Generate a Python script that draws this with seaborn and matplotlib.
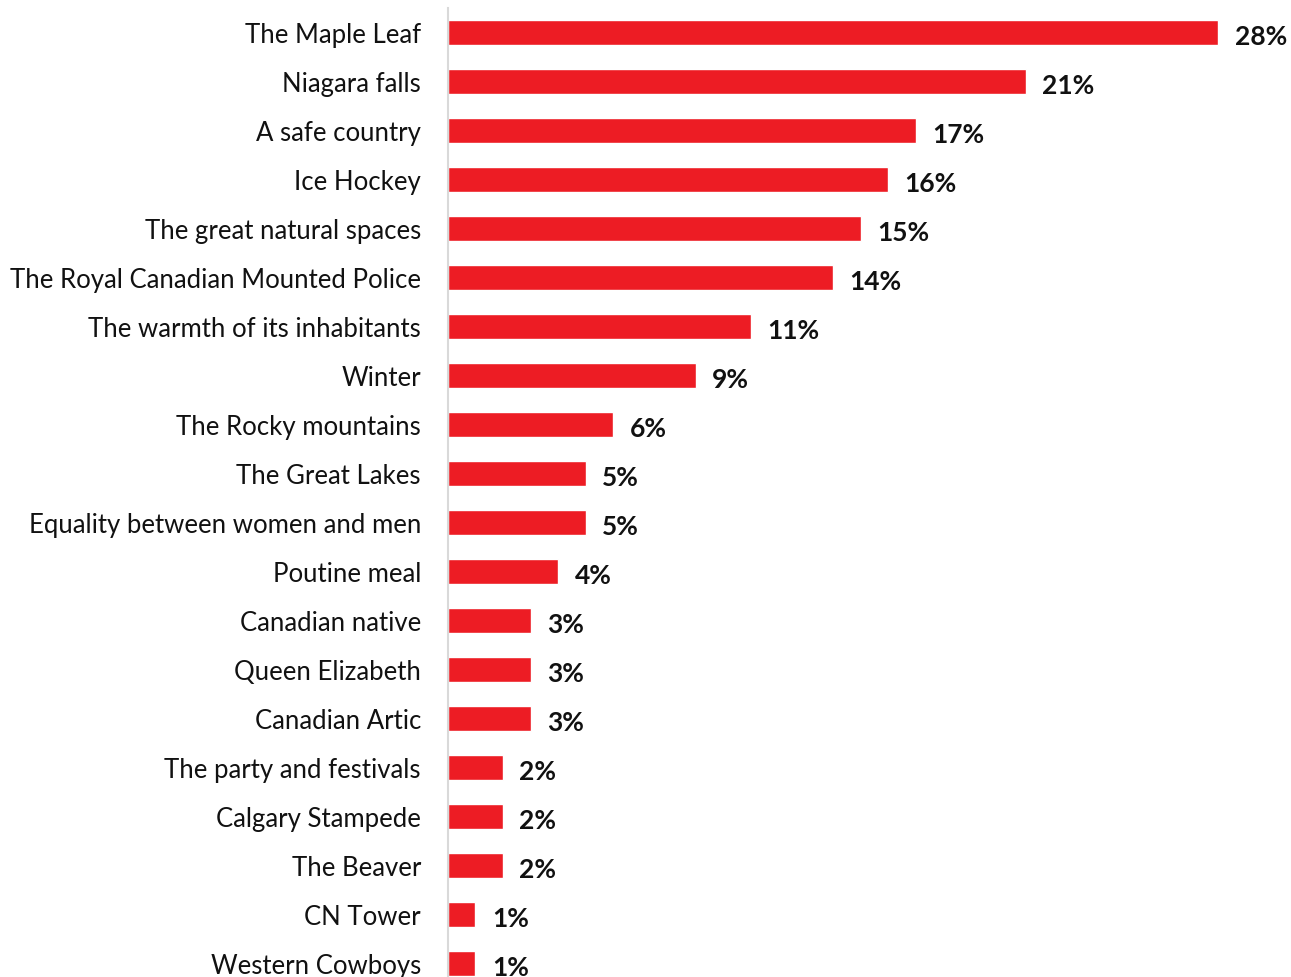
import pandas as pd
import seaborn as sns
import matplotlib.pyplot as plt

# what people associate with Canada (% of answers)
items = ["The Maple Leaf", "Niagara falls", "A safe country", "Ice Hockey",
         "The great natural spaces", "The Royal Canadian Mounted Police",
         "The warmth of its inhabitants", "Winter", "The Rocky mountains",
         "The Great Lakes", "Equality between women and men", "Poutine meal",
         "Canadian native", "Queen Elizabeth", "Canadian Artic",
         "The party and festivals", "Calgary Stampede", "The Beaver",
         "CN Tower", "Western Cowboys"]
shares = [28, 21, 17, 16, 15, 14, 11, 9, 6, 5, 5, 4, 3, 3, 3, 2, 2, 2, 1, 1]

df = pd.DataFrame({"item": items, "share": shares})

sns.set_theme(style="white")
plt.rcParams['font.family'] = ['Lato', 'DejaVu Sans']

fig = plt.figure(figsize=(12.91, 9.78), dpi=100)
ax = fig.add_axes([448 / 1291, 0, 825 / 1291, 969 / 978])

sns.barplot(data=df, x="share", y="item", orient="h", color="#ED1C24",
            saturation=1, width=0.51, ax=ax)

ax.set_xlim(0, 30)
ax.set_ylim(len(items) - 1 + 0.28, -0.5)
ax.set_xlabel("")
ax.set_ylabel("")
ax.set_xticks([])
ax.tick_params(axis="y", length=0, pad=19.5, labelsize=18.5, labelcolor="#111111")

for s in ["top", "right", "bottom"]:
    ax.spines[s].set_visible(False)
ax.spines["left"].set_color("#d9d9d9")
ax.spines["left"].set_linewidth(1.5)

for i, v in enumerate(df["share"]):
    ax.text(v + 0.6, i + 0.08, f"{v}%", va="center", ha="left",
            fontsize=19, fontweight="bold", color="#111111", clip_on=False)

fig.savefig("out.png", dpi=100)
